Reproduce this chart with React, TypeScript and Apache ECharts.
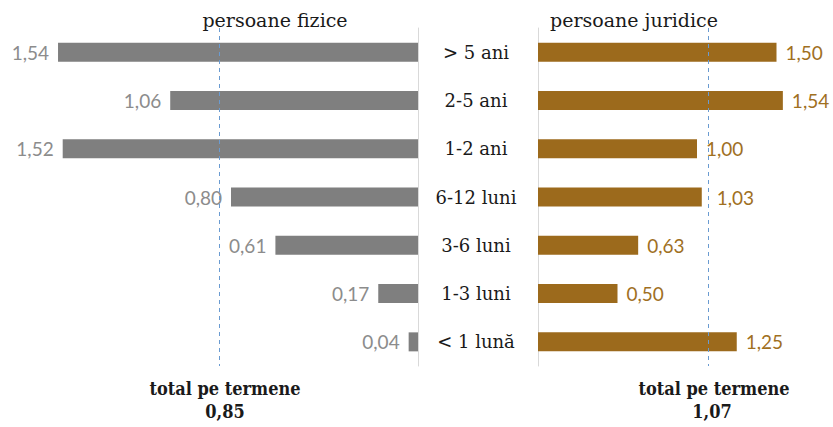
import React, { useEffect, useRef } from "react";
import * as echarts from "echarts";

const categories = ["> 5 ani", "2-5 ani", "1-2 ani", "6-12 luni", "3-6 luni", "1-3 luni", "< 1 lună"];
const fiziceValues = [1.54, 1.06, 1.52, 0.8, 0.61, 0.17, 0.04];
const juridiceValues = [1.5, 1.54, 1.0, 1.03, 0.63, 0.5, 1.25];
const fiziceTotal = 0.85;
const juridiceTotal = 1.07;
const titles = ["persoane fizice", "persoane juridice"];
const totalLabel = "total pe termene";

const fmt = (v: number) => v.toFixed(2).replace(".", ",");

const SERIF = "'DejaVu Serif', serif";
const SERIF_C = "'DejaVu Serif Condensed', 'DejaVu Serif', serif";
const SANS = "Lato, 'Open Sans', sans-serif";
const GRAY = "#7f7f7f";
const BROWN = "#9c6a1c";

export default function App() {
  const ref = useRef<HTMLDivElement>(null);
  useEffect(() => {
    if (!ref.current) return;
    const chart = echarts.init(ref.current, null, { renderer: "svg" });
    const top = 28;
    const height = 338;
    chart.setOption({
      animation: false,
      grid: [
        { left: 44, width: 374, top, height },
        { left: 538, width: 254.4, top, height },
      ],
      xAxis: [
        {
          gridIndex: 0, type: "value", min: 0, max: 1.6, inverse: true,
          show: false, splitLine: { show: false },
        },
        {
          gridIndex: 1, type: "value", min: 0, max: 1.6,
          show: false, splitLine: { show: false },
        },
      ],
      yAxis: [
        {
          gridIndex: 0, type: "category", data: categories, inverse: true,
          position: "right",
          axisLine: { show: true, lineStyle: { color: "#d9d9d9", width: 1 } },
          axisTick: { show: false },
          axisLabel: {
            show: true, align: "center", margin: 58,
            fontFamily: SERIF, fontSize: 18, color: "#1a1a1a",
          },
        },
        {
          gridIndex: 1, type: "category", data: categories, inverse: true,
          position: "left",
          axisLine: { show: true, lineStyle: { color: "#d9d9d9", width: 1 } },
          axisTick: { show: false },
          axisLabel: { show: false },
        },
      ],
      series: [
        {
          type: "bar", xAxisIndex: 0, yAxisIndex: 0, data: fiziceValues,
          barWidth: 19, itemStyle: { color: GRAY },
          label: {
            show: true, position: "left", distance: 9,
            formatter: (p: any) => fmt(p.value),
            fontFamily: SANS, fontSize: 19, color: "#8c8c8c",
          },
          markLine: {
            silent: true, symbol: "none", label: { show: false },
            lineStyle: { color: "#6a9bd1", type: [4, 4], width: 1 },
            data: [{ xAxis: fiziceTotal }],
          },
        },
        {
          type: "bar", xAxisIndex: 1, yAxisIndex: 1,
          data: juridiceValues.map((v, i) =>
            i === 3 ? { value: v, label: { distance: 15 } } : v
          ),
          barWidth: 19, itemStyle: { color: BROWN },
          label: {
            show: true, position: "right", distance: 9,
            formatter: (p: any) => fmt(p.value),
            fontFamily: SANS, fontSize: 19, color: "#a0701f",
          },
          markLine: {
            silent: true, symbol: "none", label: { show: false },
            lineStyle: { color: "#6a9bd1", type: [4, 4], width: 1 },
            data: [{ xAxis: juridiceTotal }],
          },
        },
      ],
      graphic: [
        {
          type: "text", x: 275, y: 20,
          style: { text: titles[0], fontFamily: SERIF, fontSize: 19, fill: "#1a1a1a", align: "center", verticalAlign: "middle" },
        },
        {
          type: "text", x: 634, y: 20,
          style: { text: titles[1], fontFamily: SERIF, fontSize: 19, fill: "#1a1a1a", align: "center", verticalAlign: "middle" },
        },
        {
          type: "text", x: 225, y: 388,
          style: { text: totalLabel, fontFamily: SERIF_C, fontWeight: "bold", fontSize: 18, fill: "#1a1a1a", align: "center", verticalAlign: "middle" },
        },
        {
          type: "text", x: 225, y: 411,
          style: { text: fmt(fiziceTotal), fontFamily: SERIF_C, fontWeight: "bold", fontSize: 18, fill: "#1a1a1a", align: "center", verticalAlign: "middle" },
        },
        {
          type: "text", x: 714, y: 388,
          style: { text: totalLabel, fontFamily: SERIF_C, fontWeight: "bold", fontSize: 18, fill: "#1a1a1a", align: "center", verticalAlign: "middle" },
        },
        {
          type: "text", x: 712, y: 411,
          style: { text: fmt(juridiceTotal), fontFamily: SERIF_C, fontWeight: "bold", fontSize: 18, fill: "#1a1a1a", align: "center", verticalAlign: "middle" },
        },
      ],
    });
    return () => chart.dispose();
  }, []);
  return <div ref={ref} style={{ width: 833, height: 427, position: "absolute", left: 0, top: 0 }} />;
}
